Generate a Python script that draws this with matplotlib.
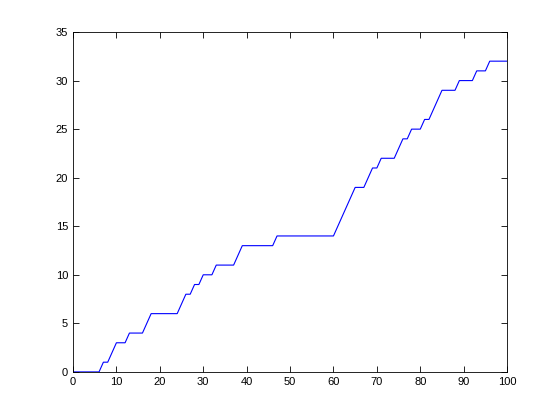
import matplotlib
matplotlib.use('Agg')
import matplotlib.pyplot as plt

# Cumulative count, one value per integer step
x = list(range(0, 101))
y = [0, 0, 0, 0, 0, 0, 0, 1, 1, 2,
     3, 3, 3, 4, 4, 4, 4, 5, 6, 6,
     6, 6, 6, 6, 6, 7, 8, 8, 9, 9,
     10, 10, 10, 11, 11, 11, 11, 11, 12, 13,
     13, 13, 13, 13, 13, 13, 13, 14, 14, 14,
     14, 14, 14, 14, 14, 14, 14, 14, 14, 14,
     14, 15, 16, 17, 18, 19, 19, 19, 20, 21,
     21, 22, 22, 22, 22, 23, 24, 24, 25, 25,
     25, 26, 26, 27, 28, 29, 29, 29, 29, 30,
     30, 30, 30, 31, 31, 31, 32, 32, 32, 32,
     32]
xticks = list(range(0, 101, 10))
yticks = list(range(0, 36, 5))

plt.rcParams['font.family'] = ['Liberation Sans', 'DejaVu Sans']

fig = plt.figure(figsize=(5.53, 4.16), dpi=100)
ax = fig.add_axes([0.132, 0.106, 0.785, 0.817])
ax.plot(x, y, color='blue', linewidth=0.8)

ax.set_xlim(0, 100)
ax.set_ylim(0, 35)
ax.set_xticks(xticks)
ax.set_yticks(yticks)
ax.tick_params(direction='in', top=True, right=True, labelsize=8, length=4, width=0.6)
for s in ax.spines.values():
    s.set_linewidth(0.6)

plt.savefig('out.png', dpi=100)
plt.close()
